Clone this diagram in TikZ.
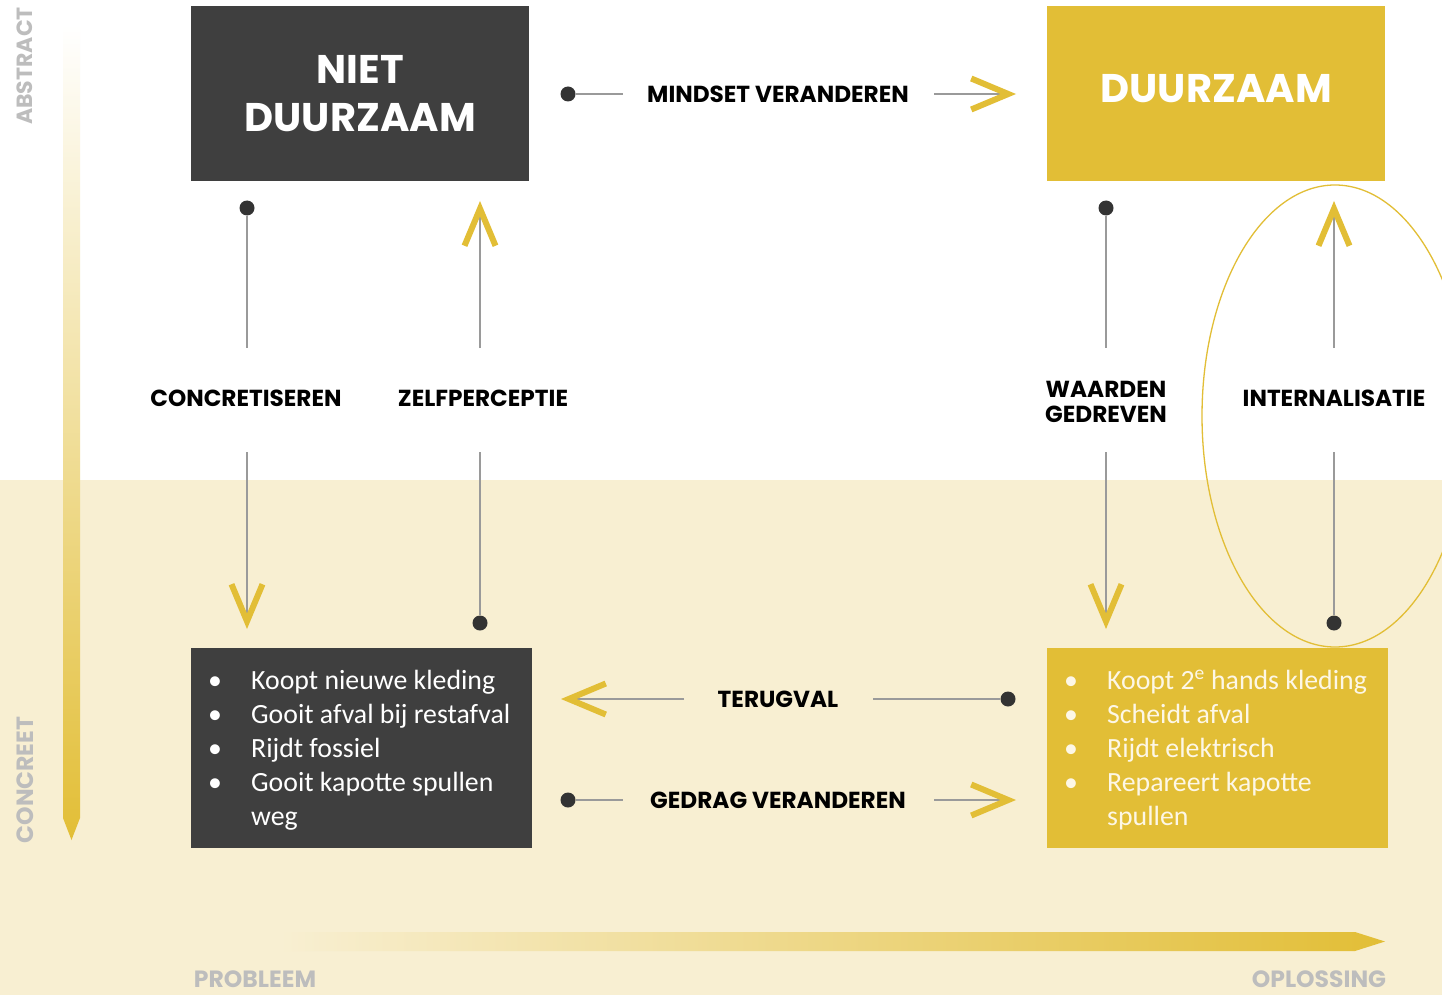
\documentclass[tikz,border=0pt]{standalone}
\usepackage{fontspec}
\usetikzlibrary{arrows.meta}
\newfontfamily\popfont{Poppins}
\newfontfamily\calfont{Carlito}
\definecolor{ylw}{HTML}{E2BE36}
\definecolor{drk}{HTML}{3F3F3F}
\definecolor{crm}{HTML}{F8EFD2}
\definecolor{lgray}{HTML}{9A9A9A}
\definecolor{axgray}{HTML}{BDBDBD}
\definecolor{dotc}{HTML}{333333}
\definecolor{ytext}{HTML}{FDF7E6}
\begin{document}
\begin{tikzpicture}[x=1pt,y=-1pt,
  lbl/.style={font=\popfont\bfseries\fontsize{23.2}{28}\selectfont, text=black, inner sep=0, align=center},
  dot/.style={circle, fill=dotc, minimum size=15pt, inner sep=0},
  conn/.style={draw=lgray, line width=1.3pt},
  chev/.style={conn, -{Straight Barb[length=37pt,width=31pt,line width=6pt,color=ylw]}},
  title/.style={font=\popfont\bfseries\fontsize{40}{48}\selectfont, text=white, align=center},
  axislbl/.style={font=\popfont\bfseries\fontsize{23.5}{26}\selectfont, text=axgray, inner sep=0},
  bigbox/.style={minimum width=338pt, minimum height=175pt, inner sep=0, anchor=north west},
  listbox/.style={minimum width=341pt, minimum height=200pt, inner sep=0, anchor=north west},
  listtext/.style={font=\calfont\fontsize{27.8}{34}\selectfont, inner sep=0, anchor=north west}
]
\clip (0,0) rectangle (1442,995);
\fill[white] (0,0) rectangle (1442,480);
\fill[crm] (0,480) rectangle (1442,995);

% axes
\shade[top color=white, bottom color=ylw] (63,25) -- (80,25) -- (80,818) -- (71.5,840) -- (63,818) -- cycle;
\shade[left color=crm, right color=ylw] (280,932) -- (1355,932) -- (1385,941.5) -- (1355,951) -- (280,951) -- cycle;
\node[axislbl, rotate=90, font=\popfont\bfseries\fontsize{22}{26}\selectfont] (abs) at (25,66) {ABSTRACT};
\node[axislbl, rotate=90] (con) at (25,780) {CONCREET};
\node[axislbl] (prob) at (255,979) {PROBLEEM};
\node[axislbl] (opl) at (1319,979) {OPLOSSING};

% boxes
\node[bigbox, fill=drk] (nd) at (191,6) {};
\node[title] at (nd.center) {NIET\\DUURZAAM};
\node[bigbox, fill=ylw] (dz) at (1047,6) {};
\node[title] at ([yshift=5pt]dz.center) {DUURZAAM};

\node[listbox, fill=drk] (ndl) at (191,648) {};
\node[listtext, text=white] (ndlt) at (208,665) {\begin{tabular}{@{}p{43pt}@{}l@{}}
\textbullet & Koopt nieuwe kleding\\
\textbullet & Gooit afval bij restafval\\
\textbullet & Rijdt fossiel\\
\textbullet & Gooit kapotte spullen\\
 & weg
\end{tabular}};
\node[listbox, fill=ylw] (dzl) at (1047,648) {};
\node[listtext, text=ytext] (dzlt) at (1064,665) {\begin{tabular}{@{}p{43pt}@{}l@{}}
\textbullet & Koopt 2\textsuperscript{e} hands kleding\\
\textbullet & Scheidt afval\\
\textbullet & Rijdt elektrisch\\
\textbullet & Repareert kapotte\\
 & spullen
\end{tabular}};

% ellipse
\draw[ylw, line width=1.3pt] (1335,416) ellipse [x radius=133, y radius=231];

% MINDSET VERANDEREN
\node[dot] (d1) at (568,94) {};
\node[lbl] (l1) at (778,94) {MINDSET VERANDEREN};
\coordinate (a1) at (623,94);
\coordinate (b1) at (934,94);
\coordinate (e1) at (1016,94);
\draw[conn] (d1) -- (a1);
\draw[chev] (b1) -- (e1);

% GEDRAG VERANDEREN
\node[dot] (d2) at (568,800) {};
\node[lbl] (l2) at (778,800) {GEDRAG VERANDEREN};
\coordinate (a2) at (623,800);
\coordinate (b2) at (934,800);
\coordinate (e2) at (1016,800);
\draw[conn] (d2) -- (a2);
\draw[chev] (b2) -- (e2);

% TERUGVAL
\node[dot] (d3) at (1008,699) {};
\node[lbl] (l3) at (778,699) {TERUGVAL};
\coordinate (a3) at (873,699);
\coordinate (b3) at (684,699);
\coordinate (e3) at (561,699);
\draw[conn] (d3) -- (a3);
\draw[chev] (b3) -- (e3);

% CONCRETISEREN
\node[dot] (d4) at (247,208) {};
\node[lbl] (l4) at (246,398) {CONCRETISEREN};
\coordinate (a4) at (247,348);
\coordinate (b4) at (247,452);
\coordinate (e4) at (247,629);
\draw[conn] (d4) -- (a4);
\draw[chev] (b4) -- (e4);

% ZELFPERCEPTIE
\node[dot] (d5) at (480,623) {};
\node[lbl] (l5) at (483,398) {ZELFPERCEPTIE};
\coordinate (a5) at (480,452);
\coordinate (b5) at (480,348);
\coordinate (e5) at (480,201);
\draw[conn] (d5) -- (a5);
\draw[chev] (b5) -- (e5);

% WAARDEN GEDREVEN
\node[dot] (d6) at (1106,208) {};
\node[lbl, text depth=0pt] (l6) at (1106,402) {WAARDEN\\[-3pt]GEDREVEN};
\coordinate (a6) at (1106,348);
\coordinate (b6) at (1106,452);
\coordinate (e6) at (1106,629);
\draw[conn] (d6) -- (a6);
\draw[chev] (b6) -- (e6);

% INTERNALISATIE
\node[dot] (d7) at (1334,623) {};
\node[lbl] (l7) at (1334,398) {INTERNALISATIE};
\coordinate (a7) at (1334,452);
\coordinate (b7) at (1334,348);
\coordinate (e7) at (1334,201);
\draw[conn] (d7) -- (a7);
\draw[chev] (b7) -- (e7);
\end{tikzpicture}
\end{document}
